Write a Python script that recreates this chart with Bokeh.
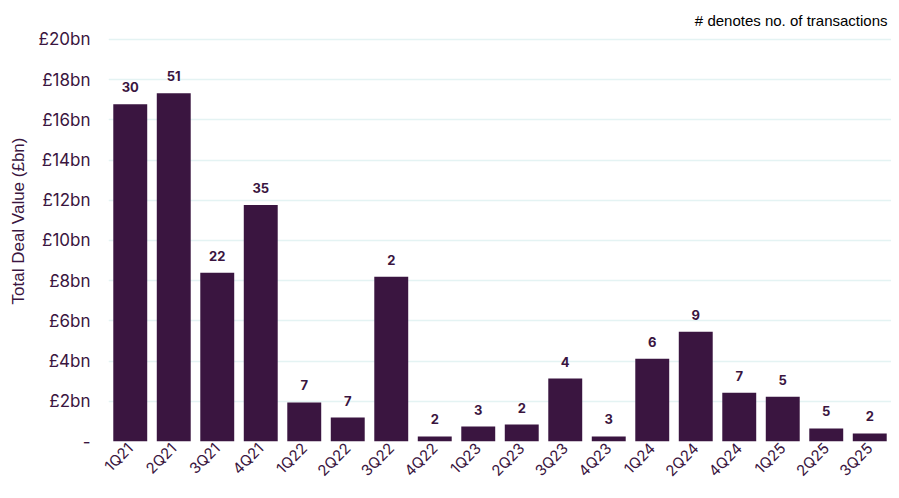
from bokeh.plotting import figure
from bokeh.models import ColumnDataSource, FixedTicker, Label, Range1d, FactorRange
from bokeh.core.properties import value
from bokeh.embed import file_html
from bokeh.resources import INLINE
import math

quarters = ["1Q21", "2Q21", "3Q21", "4Q21", "1Q22", "2Q22", "3Q22", "4Q22",
            "1Q23", "2Q23", "3Q23", "4Q23", "1Q24", "2Q24", "4Q24", "1Q25",
            "2Q25", "3Q25"]
deal_value_bn = [16.77, 17.32, 8.39, 11.76, 1.94, 1.19, 8.19, 0.25,
                 0.74, 0.84, 3.13, 0.25, 4.12, 5.46, 2.43, 2.23,
                 0.65, 0.40]
transactions = [30, 51, 22, 35, 7, 7, 2, 2, 3, 2, 4, 3, 6, 9, 7, 5, 5, 2]
y_ticks = [0, 2, 4, 6, 8, 10, 12, 14, 16, 18, 20]
y_tick_labels = ["-", "£2bn", "£4bn", "£6bn", "£8bn", "£10bn", "£12bn",
                 "£14bn", "£16bn", "£18bn", "£20bn"]

PURPLE = "#3A1540"
FONT = "Inter"
PX_PER_BN = 20.15

src = ColumnDataSource(dict(q=quarters, v=deal_value_bn,
                            n=[str(t) for t in transactions]))

p = figure(x_range=FactorRange(*quarters, range_padding=0.0),
           y_range=Range1d(0, 442 / PX_PER_BN),
           width=891, height=490, output_backend="svg", toolbar_location=None,
           min_border_left=108, min_border_right=0, min_border_top=0,
           min_border_bottom=48)
p.outline_line_color = None
p.background_fill_color = "white"

p.vbar(x="q", top="v", width=0.78, source=src, fill_color=PURPLE,
       line_color=None)
p.text(x="q", y="v", text="n", source=src, text_align="center",
       text_baseline="middle", y_offset=-17, text_font=value(FONT),
       text_font_size="13px", text_font_style="bold", text_color=PURPLE)

p.xaxis.axis_line_color = None
p.xaxis.major_tick_line_color = None
p.xaxis.major_tick_out = 0
p.xaxis.major_tick_in = 0
p.xaxis.major_label_orientation = math.pi / 4
p.xaxis.major_label_text_font = FONT
p.xaxis.major_label_text_font_size = "15px"
p.xaxis.major_label_text_color = PURPLE
p.xaxis.major_label_standoff = 4

p.yaxis.ticker = FixedTicker(ticks=y_ticks)
p.yaxis.major_label_overrides = {t: l for t, l in zip(y_ticks, y_tick_labels)}
p.yaxis.axis_line_color = None
p.yaxis.major_tick_line_color = None
p.yaxis.minor_tick_line_color = None
p.yaxis.major_tick_out = 0
p.yaxis.major_tick_in = 0
p.yaxis.major_label_text_font = FONT
p.yaxis.major_label_text_font_size = "17px"
p.yaxis.major_label_text_color = PURPLE
p.yaxis.major_label_standoff = 18
p.yaxis.axis_label = "Total Deal Value (£bn)"
p.yaxis.axis_label_text_font = "Liberation Sans"
p.yaxis.axis_label_text_font_size = "17px"
p.yaxis.axis_label_text_font_style = "normal"
p.yaxis.axis_label_text_color = PURPLE
p.yaxis.axis_label_standoff = 8

p.xgrid.grid_line_color = None
p.ygrid.grid_line_color = "#E4F3F3"
p.ygrid.grid_line_width = 1.5

p.add_layout(Label(x=len(quarters), y=422 / PX_PER_BN,
                   text="# denotes no. of transactions",
                   text_align="right", text_baseline="middle", x_offset=-4,
                   text_font="Liberation Sans", text_font_size="15px",
                   text_color="black"))

open("out.html", "w").write(file_html(p, INLINE))
